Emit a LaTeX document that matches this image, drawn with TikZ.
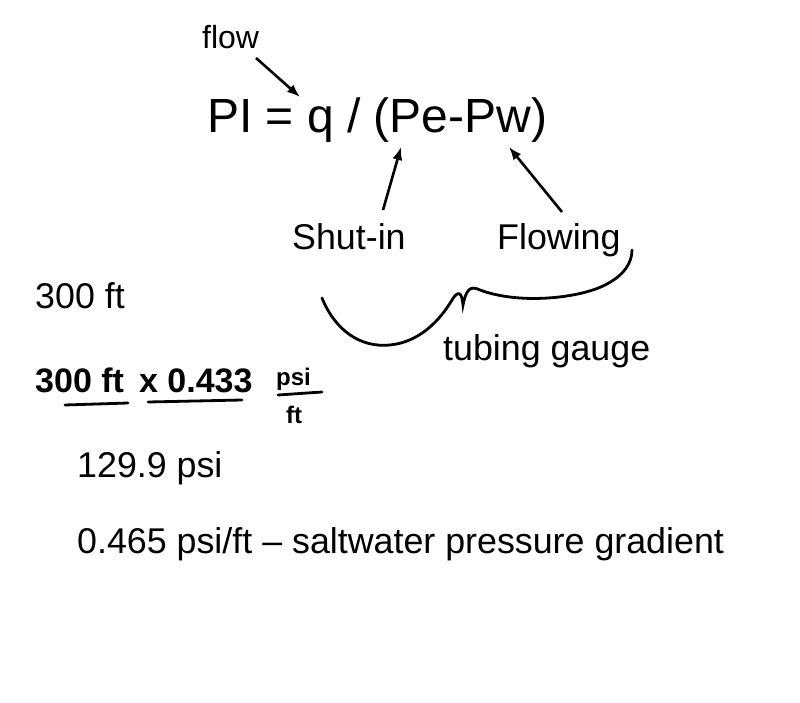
\documentclass[tikz,border=0pt]{standalone}
\usepackage{fontspec}
\setmainfont{Liberation Sans}
\usetikzlibrary{arrows.meta}
\begin{document}
\begin{tikzpicture}[x=1pt,y=-1pt,
  lbl/.style={anchor=base west,inner sep=0pt,font=\fontsize{35.8}{37}\selectfont},
  hand/.style={anchor=base west,inner sep=0pt,font=\fontsize{34}{36}\selectfont\bfseries},
  arr/.style={line width=2.6pt,-{Latex[length=13pt,width=10pt]}},
  pen/.style={line width=2.8pt,line cap=round}]
\useasboundingbox[fill=white] (0,0) rectangle (800,703);
\node[lbl,font=\fontsize{32}{34}\selectfont] (flow) at (202,49) {flow};
\node[lbl,font=\fontsize{48}{50}\selectfont] (pi) at (207,133) {PI = q / (Pe-Pw)};
\node[lbl] (shut) at (292,250) {Shut-in};
\node[lbl] (flowing) at (497,250) {Flowing};
\node[lbl] (ft) at (35,308) {300 ft};
\node[lbl] (tg) at (443,360) {tubing gauge};
\node[lbl] (psi) at (77,477) {129.9 psi};
\node[lbl] (grad) at (77,553) {0.465 psi/ft – saltwater pressure gradient};
\node[hand] (h1) at (35,392) {300 ft\, x 0.433};
\node[hand,font=\fontsize{24}{26}\selectfont\bfseries] (h2) at (276,385) {psi};
\node[hand,font=\fontsize{24}{26}\selectfont\bfseries] (h3) at (286,423) {ft};
\coordinate (a1) at (256,58); \coordinate (a1e) at (300,97);
\coordinate (a2) at (383,210); \coordinate (a2e) at (401,147);
\coordinate (a3) at (562,212); \coordinate (a3e) at (509,147);
\draw[arr] (a1) -- (a1e);
\draw[arr] (a2) -- (a2e);
\draw[arr] (a3) -- (a3e);
\draw[pen] (322,298) .. controls (335,330) and (360,348) .. (390,345)
  .. controls (420,342) and (440,320) .. (452,300)
  .. controls (458,290) and (462,292) .. (463,305)
  .. controls (466,290) and (470,285) .. (480,290)
  .. controls (520,305) and (580,298) .. (605,285)
  .. controls (625,275) and (632,262) .. (632,250);
\draw[pen] (65,405) -- (128,403);
\draw[pen] (148,402) -- (242,400);
\draw[pen] (278,395) -- (322,392);
\end{tikzpicture}
\end{document}
